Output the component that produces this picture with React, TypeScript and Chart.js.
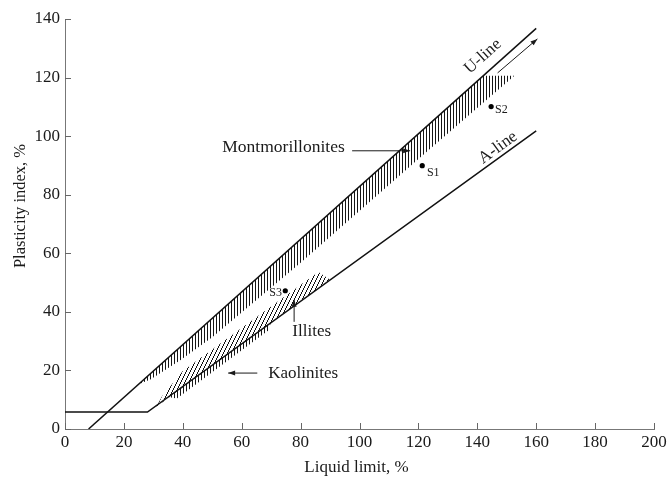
import React, { useEffect, useRef } from 'react';
import { Chart, registerables } from 'chart.js';

Chart.register(...registerables);

// Axis ticks
const xTickValues = [0, 20, 40, 60, 80, 100, 120, 140, 160, 180, 200];
const yTickValues = [0, 20, 40, 60, 80, 100, 120, 140];

// U-line
const uLineLL = [8, 160];
const uLinePI = [0, 136.8];

// A-line (with horizontal low-plasticity segment)
const aLineLL = [0, 28, 160];
const aLinePI = [5.8, 5.8, 101.8];

// Montmorillonites hatched zone (polygon)
const montLL = [25, 142, 152.6, 120, 80, 50, 39, 29];
const montPI = [15.3, 120.6, 120.6, 92.2, 56.8, 31.3, 23.4, 16.9];

// Illites hatched zone (polygon)
const illLL = [31, 90, 86, 40, 33];
const illPI = [7.6, 51.0, 53.6, 19.8, 11.2];

// Kaolinites hatched zone (polygon)
const kaoLL = [35, 70, 69, 38];
const kaoPI = [10.9, 36.5, 33.6, 10.4];

// Soil samples
const sampleNames = ['S1', 'S2', 'S3'];
const sampleLL = [121.3, 144.7, 74.8];
const samplePI = [89.9, 110.1, 47.2];

// Text annotations
const noteTexts = ['Montmorillonites', 'Illites', 'Kaolinites', 'S1', 'S2', 'S3'];
const noteLL = [53.4, 77.2, 69, 122.9, 146, 73.7];
const notePI = [96.1, 33.2, 19.1, 87.5, 109, 46.5];
const noteAlign: CanvasTextAlign[] = ['left', 'left', 'left', 'left', 'left', 'right'];
const noteSize = [17.5, 17, 17, 12, 12, 12];

// Rotated line labels
const lineLabelTexts = ['U-line', 'A-line'];
const lineLabelLL = [141.9, 147];
const lineLabelPI = [127.2, 96.1];

// Arrows
const arrowFromLL = [97.5, 77.8, 65.3, 146.9];
const arrowFromPI = [95, 36.6, 19.1, 121.6];
const arrowToLL = [117.2, 77.8, 55.4, 160.4];
const arrowToPI = [95, 44.1, 19.1, 133.2];

const SERIF = '"Liberation Serif", "Times New Roman", Times, serif';

const pts = (xs: number[], ys: number[]) => xs.map((x, i) => ({ x, y: ys[i] }));

function makePattern(kind: 'v' | 'd'): CanvasPattern | string {
  const c = document.createElement('canvas');
  const w = kind === 'v' ? 3 : 4;
  const h = kind === 'v' ? 3 : 8;
  c.width = w;
  c.height = h;
  const g = c.getContext('2d');
  if (!g) return '#888';
  g.fillStyle = '#151515';
  if (kind === 'v') {
    g.fillRect(0, 0, 1, h);
  } else {
    // crisp staircase "/" stroke
    for (let x = 0; x < w; x++) {
      g.fillRect(x, h - 2 * (x + 1), 1, 2);
    }
  }
  return g.createPattern(c, 'repeat') || '#888';
}

const decorPlugin = {
  id: 'decor',
  afterDraw(chart: any) {
    const ctx: CanvasRenderingContext2D = chart.ctx;
    const xs = chart.scales.x;
    const ys = chart.scales.y;
    const area = chart.chartArea;
    const X = (v: number) => xs.getPixelForValue(v);
    const Y = (v: number) => ys.getPixelForValue(v);
    ctx.save();

    // inward tick marks
    ctx.strokeStyle = '#666';
    ctx.lineWidth = 1;
    ctx.beginPath();
    xTickValues.forEach((v) => {
      const px = Math.round(X(v)) + 0.5;
      ctx.moveTo(px, area.bottom);
      ctx.lineTo(px, area.bottom - 6);
    });
    yTickValues.forEach((v) => {
      const py = Math.round(Y(v)) + 0.5;
      ctx.moveTo(area.left, py);
      ctx.lineTo(area.left + 6, py);
    });
    ctx.stroke();

    ctx.fillStyle = '#1a1a1a';
    // axis titles
    ctx.font = `17px ${SERIF}`;
    ctx.textAlign = 'center';
    ctx.textBaseline = 'middle';
    ctx.fillText('Liquid limit, %', (area.left + area.right) / 2 - 3, 468);
    ctx.save();
    ctx.translate(20.5, 206);
    ctx.rotate(-Math.PI / 2);
    ctx.font = `16.5px ${SERIF}`;
    ctx.fillText('Plasticity index, %', 0, 0);
    ctx.restore();

    // notes
    noteTexts.forEach((t, i) => {
      ctx.font = `${noteSize[i]}px ${SERIF}`;
      ctx.textAlign = noteAlign[i];
      ctx.textBaseline = 'middle';
      ctx.fillText(t, X(noteLL[i]), Y(notePI[i]));
    });

    // rotated line labels
    const angles = [
      Math.atan2(Y(uLinePI[0]) - Y(uLinePI[1]), X(uLineLL[1]) - X(uLineLL[0])),
      Math.atan2(Y(aLinePI[1]) - Y(aLinePI[2]), X(aLineLL[2]) - X(aLineLL[1])),
    ];
    lineLabelTexts.forEach((t, i) => {
      ctx.save();
      ctx.translate(X(lineLabelLL[i]), Y(lineLabelPI[i]));
      ctx.rotate(-angles[i]);
      ctx.font = `17px ${SERIF}`;
      ctx.textAlign = 'center';
      ctx.textBaseline = 'middle';
      ctx.fillText(t, 0, 0);
      ctx.restore();
    });

    // arrows
    ctx.strokeStyle = '#1a1a1a';
    ctx.lineWidth = 1;
    arrowFromLL.forEach((_, i) => {
      const x1 = X(arrowFromLL[i]);
      const y1 = Y(arrowFromPI[i]);
      const x2 = X(arrowToLL[i]);
      const y2 = Y(arrowToPI[i]);
      const a = Math.atan2(y2 - y1, x2 - x1);
      ctx.beginPath();
      ctx.moveTo(x1, y1);
      ctx.lineTo(x2, y2);
      ctx.stroke();
      const L = 7;
      const W = 2.5;
      ctx.beginPath();
      ctx.moveTo(x2, y2);
      ctx.lineTo(x2 - L * Math.cos(a) + W * Math.sin(a), y2 - L * Math.sin(a) - W * Math.cos(a));
      ctx.lineTo(x2 - L * Math.cos(a) - W * Math.sin(a), y2 - L * Math.sin(a) + W * Math.cos(a));
      ctx.closePath();
      ctx.fill();
    });

    ctx.restore();
  },
};

export default function App() {
  const ref = useRef<HTMLCanvasElement>(null);

  useEffect(() => {
    if (!ref.current) return;
    const vPat = makePattern('v');
    const dPat = makePattern('d');
    const lineStyle = {
      type: 'scatter' as const,
      showLine: true,
      pointRadius: 0,
      borderColor: '#111',
      borderWidth: 1.5,
      fill: false,
      tension: 0,
    };
    const zoneStyle = {
      type: 'scatter' as const,
      showLine: true,
      pointRadius: 0,
      borderColor: 'rgba(0,0,0,0)',
      borderWidth: 1,
      fill: 'shape' as any,
      tension: 0,
    };
    const chart = new Chart(ref.current, {
      type: 'scatter',
      data: {
        datasets: [
          { ...lineStyle, label: 'U-line', data: pts(uLineLL, uLinePI) },
          { ...lineStyle, label: 'A-line', data: pts(aLineLL, aLinePI) },
          {
            type: 'scatter',
            label: 'Samples',
            data: pts(sampleLL, samplePI),
            pointRadius: 2.6,
            pointBackgroundColor: '#000',
            pointBorderColor: '#000',
            pointBorderWidth: 0,
            showLine: false,
          } as any,
          { ...zoneStyle, label: 'Montmorillonites', data: pts(montLL, montPI), backgroundColor: vPat },
          { ...zoneStyle, label: 'Illites', data: pts(illLL, illPI), backgroundColor: dPat },
          { ...zoneStyle, label: 'Kaolinites', data: pts(kaoLL, kaoPI), backgroundColor: vPat },
        ] as any,
      },
      options: {
        responsive: false,
        animation: false,
        devicePixelRatio: 1,
        events: [],
        layout: { padding: { top: 19, right: 17, left: 0, bottom: 0 } },
        plugins: {
          legend: { display: false },
          tooltip: { enabled: false },
          title: { display: false },
        },
        scales: {
          x: {
            type: 'linear',
            min: 0,
            max: 200,
            afterFit: (s: any) => {
              s.height = 52;
            },
            afterBuildTicks: (s: any) => {
              s.ticks = xTickValues.map((v) => ({ value: v }));
            },
            grid: { display: false, drawTicks: false },
            border: { display: true, color: '#777', width: 1 },
            ticks: {
              padding: 3,
              color: '#1a1a1a',
              font: { family: SERIF, size: 17 },
              maxRotation: 0,
            },
          },
          y: {
            type: 'linear',
            min: 0,
            max: 140,
            afterFit: (s: any) => {
              s.width = 65;
            },
            afterBuildTicks: (s: any) => {
              s.ticks = yTickValues.map((v) => ({ value: v }));
            },
            grid: { display: false, drawTicks: false },
            border: { display: true, color: '#777', width: 1 },
            ticks: {
              padding: 5,
              color: '#1a1a1a',
              font: { family: SERIF, size: 17 },
            },
          },
        },
      },
      plugins: [decorPlugin],
    });
    return () => chart.destroy();
  }, []);

  return (
    <div style={{ position: 'absolute', left: 0, top: 0, width: 671, height: 481, background: '#fff' }}>
      <canvas ref={ref} width={671} height={481} style={{ display: 'block', width: 671, height: 481 }} />
    </div>
  );
}
